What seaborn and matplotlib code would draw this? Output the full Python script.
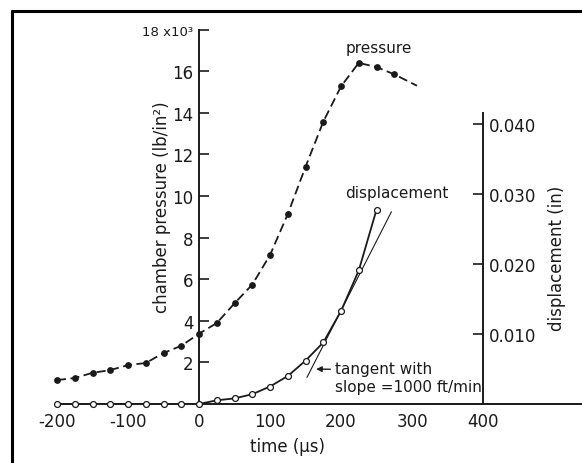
import matplotlib
matplotlib.use("Agg")
import matplotlib.pyplot as plt
import seaborn as sns
from matplotlib.lines import Line2D

# ---------------- data ----------------
pressure_time = [-200, -175, -150, -125, -100, -75, -50, -25, 0, 25, 50, 75,
                 100, 125, 150, 175, 200, 225, 250, 275]
pressure_kpsi = [1.15, 1.25, 1.5, 1.63, 1.87, 1.97, 2.45, 2.8, 3.38, 3.89, 4.84,
                 5.74, 7.16, 9.13, 11.4, 13.57, 15.27, 16.4, 16.2, 15.85]
pressure_tail_time = [307]
pressure_tail_kpsi = [15.3]

disp_time = [-200, -175, -150, -125, -100, -75, -50, -25, 0, 25, 50, 75,
             100, 125, 150, 175, 200, 225, 250]
disp_in = [0, 0, 0, 0, 0, 0, 0, 0, 0, 0.00053, 0.0008, 0.0014, 0.0025, 0.0040,
           0.0062, 0.0088, 0.0133, 0.0191, 0.0278]

tangent_time = [152, 271]
tangent_in = [0.0038, 0.0275]

x_ticks = [-200, -100, 0, 100, 200, 300, 400]
x_tick_labels = ["-200", "-100", "0", "100", "200", "300", "400"]
x_minor_ticks = [100, 200, 300]
p_ticks = [2, 4, 6, 8, 10, 12, 14, 16, 18]
p_tick_labels = ["2", "4", "6", "8", "10", "12", "14", "16", "18 x10³"]
d_ticks = [0.010, 0.020, 0.030, 0.040]
d_tick_labels = ["0.010", "0.020", "0.030", "0.040"]

# ---------------- style ----------------
sns.set_theme(style="white")
plt.rcParams["font.family"] = ["DejaVu Sans"]
INK = "#1a1a1a"

W, H = 582, 464
fig = plt.figure(figsize=(W / 100, H / 100), dpi=100)
fig.patch.set_facecolor("white")

ax = fig.add_axes([57 / W, 59 / H, 525 / W, 374.4 / H])
ax.set_xlim(-200, 539.4)
ax.set_ylim(0, 18)
ax.patch.set_alpha(0)
ax2 = ax.twinx()
ax2.set_ylim(0, 0.05356)
ax2.patch.set_alpha(0)

# ---------------- marks ----------------
sns.lineplot(x=pressure_time + pressure_tail_time, y=pressure_kpsi + pressure_tail_kpsi,
             ax=ax, color=INK, lw=1.3, linestyle=(0, (5, 2.5)), sort=False)
sns.scatterplot(x=pressure_time, y=pressure_kpsi, ax=ax, color=INK, s=24,
                linewidth=0, clip_on=False, zorder=4)

sns.lineplot(x=disp_time, y=disp_in, ax=ax2, color=INK, lw=1.3, sort=False)
sns.lineplot(x=tangent_time, y=tangent_in, ax=ax2, color=INK, lw=0.8, sort=False)
sns.scatterplot(x=disp_time, y=disp_in, ax=ax2, color="white", edgecolor=INK,
                s=18, linewidth=0.9, clip_on=False, zorder=4)

# ---------------- spines & ticks ----------------
for s in ("top", "right"):
    ax.spines[s].set_visible(False)
ax.spines["left"].set_position(("data", 0))
ax.spines["left"].set_bounds(0, 18)
for s in ("left", "bottom"):
    ax.spines[s].set_color(INK)
    ax.spines[s].set_linewidth(1.4)

for s in ("top", "left", "bottom"):
    ax2.spines[s].set_visible(False)
ax2.spines["right"].set_position(("data", 400))
ax2.spines["right"].set_bounds(0, 0.0416)
ax2.spines["right"].set_color(INK)
ax2.spines["right"].set_linewidth(1.4)

ax.set_yticks(p_ticks, p_tick_labels)
ax.tick_params(axis="y", left=True, direction="in", length=7, width=1.2,
               pad=4, labelsize=12, colors=INK)
ax.yaxis.get_major_ticks()[-1].label1.set_fontsize(9.5)

ax.set_xticks(x_ticks, x_tick_labels)
ax.set_xticks(x_minor_ticks, minor=True)
ax.tick_params(axis="x", which="major", bottom=True, length=0, pad=6,
               labelsize=12, colors=INK)
ax.tick_params(axis="x", which="minor", bottom=True, direction="in", length=7,
               width=1.0, colors=INK)

ax2.set_yticks(d_ticks, d_tick_labels)
ax2.tick_params(axis="y", right=True, direction="in", length=7, width=1.2,
                pad=4, labelsize=12, colors=INK)
ax.grid(False)
ax2.grid(False)

# ---------------- labels ----------------
ax.set_xlabel("time (μs)", fontsize=12, color=INK)
ax.xaxis.set_label_coords(124, -2.0, transform=ax.transData)
ax.xaxis.label.set_va("center")

ax.set_ylabel("chamber pressure (lb/in²)", fontsize=12, color=INK)
ax.yaxis.set_label_coords(-52, 9.5, transform=ax.transData)
ax.yaxis.label.set_va("center")

ax2.set_ylabel("displacement (in)", fontsize=12, color=INK)
ax2.yaxis.set_label_coords(504, 0.021, transform=ax2.transData)
ax2.yaxis.label.set_va("center")

ax.text(253.5, 17.16, "pressure", ha="center", va="center", fontsize=11, color=INK)
ax.text(279, 10.19, "displacement", ha="center", va="center", fontsize=11, color=INK)
ax.annotate("tangent with\nslope =1000 ft/min", xy=(165, 1.68), xytext=(191.5, 1.27),
            ha="left", va="center", fontsize=11, color=INK, linespacing=1.25,
            arrowprops=dict(arrowstyle="-|>", color=INK, lw=1.0, mutation_scale=8,
                            shrinkA=1, shrinkB=0, relpos=(0, 0.75)))

# ---------------- page frame (left and top edges) ----------------
fig.add_artist(Line2D([12 / W, 12 / W], [0, 1 - 12 / H], transform=fig.transFigure,
                      color="black", lw=2.2))
fig.add_artist(Line2D([12 / W, 1], [1 - 12 / H, 1 - 12 / H], transform=fig.transFigure,
                      color="black", lw=2.2))

fig.savefig("out.png", dpi=100)
